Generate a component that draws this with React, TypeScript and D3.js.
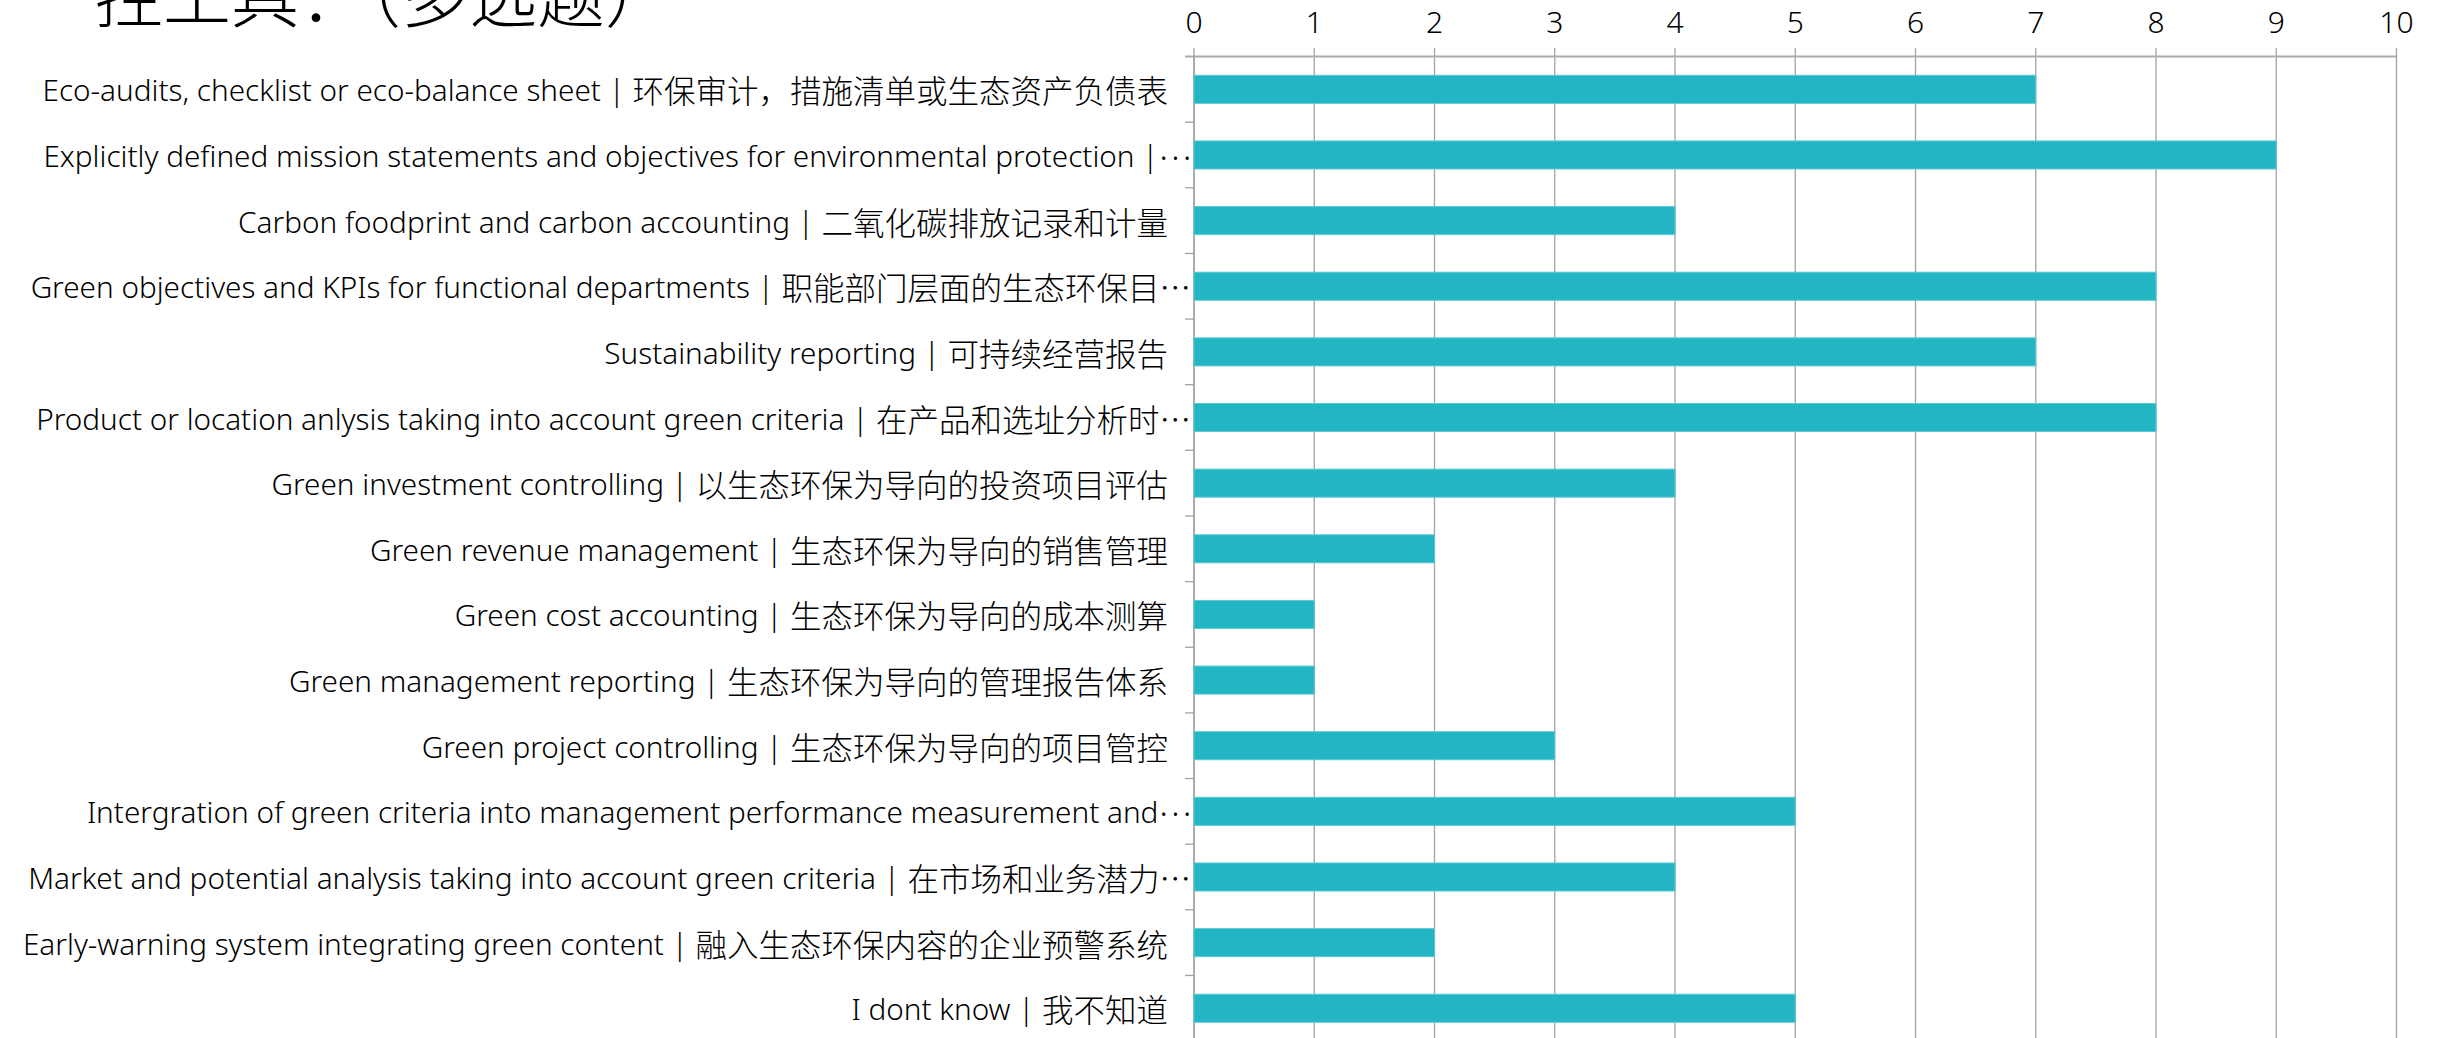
import React from "react";
import * as d3 from "d3";

const categories: string[] = [
  "Eco-audits, checklist or eco-balance sheet | 环保审计，措施清单或生态资产负债表",
  "Explicitly defined mission statements and objectives for environmental protection |…",
  "Carbon foodprint and carbon accounting | 二氧化碳排放记录和计量",
  "Green objectives and KPIs for functional departments | 职能部门层面的生态环保目…",
  "Sustainability reporting | 可持续经营报告",
  "Product or location anlysis taking into account green criteria | 在产品和选址分析时…",
  "Green investment controlling | 以生态环保为导向的投资项目评估",
  "Green revenue management | 生态环保为导向的销售管理",
  "Green cost accounting | 生态环保为导向的成本测算",
  "Green management reporting | 生态环保为导向的管理报告体系",
  "Green project controlling | 生态环保为导向的项目管控",
  "Intergration of green criteria into management performance measurement and…",
  "Market and potential analysis taking into account green criteria | 在市场和业务潜力…",
  "Early-warning system integrating green content | 融入生态环保内容的企业预警系统",
  "I dont know | 我不知道",
];

const values: number[] = [7, 9, 4, 8, 7, 8, 4, 2, 1, 1, 3, 5, 4, 2, 5];

const xTicks: number[] = [0, 1, 2, 3, 4, 5, 6, 7, 8, 9, 10];

const titleText = "控工具：（多选题）";

const W = 2440;
const H = 1038;
const FONT = "'Noto Sans', 'Noto Sans CJK SC', sans-serif";
const CJK = "'Noto Sans CJK SC', sans-serif";
const CJK_RE = /([\u2026\u3000-\u9fff\uff00-\uffef]+)/;

function renderLabel(s: string) {
  return s
    .split(CJK_RE)
    .filter((p) => p.length > 0)
    .map((p, k) => {
      if (p === "…") {
        return (
          <tspan key={k} fontFamily={CJK} fontSize={31.5} dy={-9}>
            {p}
          </tspan>
        );
      }
      return CJK_RE.test(p) ? (
        <tspan key={k} fontFamily={CJK} fontSize={31.5}>
          {p}
        </tspan>
      ) : (
        <tspan key={k}>{p}</tspan>
      );
    });
}

export default function App() {
  const x = d3.scaleLinear().domain([0, 10]).range([1194, 2396.5]);
  const y = d3
    .scaleBand<string>()
    .domain(categories)
    .range([56.5, 56.5 + 65.64 * categories.length])
    .paddingInner(0.573)
    .paddingOuter(0.2865);
  const step = y.step();
  const gridColor = "#A3A3A3";

  return (
    <svg
      width={W}
      height={H}
      style={{ position: "absolute", left: 0, top: 0, background: "#fff" }}
      fontFamily={FONT}
    >
      <rect x={0} y={0} width={W} height={H} fill="#fff" />
      {/* title (cut off at top) */}
      <text x={95} y={22} fontSize={68} fill="#000" fontFamily={CJK} fontWeight={300}>
        {titleText}
      </text>

      {/* gridlines */}
      {xTicks.map((t) => (
        <line
          key={"g" + t}
          x1={x(t)}
          x2={x(t)}
          y1={48}
          y2={H}
          stroke={gridColor}
          strokeWidth={1.3}
        />
      ))}
      {/* top axis line */}
      <line x1={1185} x2={x(10)} y1={56.5} y2={56.5} stroke="#ABABAB" strokeWidth={2} />
      {/* category axis line */}
      <line x1={x(0)} x2={x(0)} y1={56.5} y2={H} stroke={gridColor} strokeWidth={1.5} />
      {/* category tick marks */}
      {categories.map((c, i) => (
        <line
          key={"ct" + i}
          x1={1185}
          x2={x(0)}
          y1={56.5 + step * (i + 1)}
          y2={56.5 + step * (i + 1)}
          stroke={gridColor}
          strokeWidth={1.3}
        />
      ))}

      {/* tick labels */}
      {xTicks.map((t) => (
        <text
          key={"tl" + t}
          x={x(t)}
          y={33}
          fontSize={30}
          fontWeight={300}
          textAnchor="middle"
          fill="#000"
        >
          {String(t)}
        </text>
      ))}

      {/* bars */}
      {categories.map((c, i) => (
        <rect
          key={"b" + i}
          x={x(0)}
          y={y(c)!}
          width={x(values[i]) - x(0)}
          height={y.bandwidth()}
          fill="#22B5C4"
          stroke="#5CC7D2"
          strokeWidth={1}
        />
      ))}

      {/* category labels */}
      {categories.map((c, i) => {
        const truncated = c.endsWith("…");
        return (
          <text
            key={"l" + i}
            x={truncated ? 1191 : 1168}
            y={y(c)! + y.bandwidth() / 2}
            fontSize={29.7}
            fontWeight={300}
            textAnchor="end"
            dominantBaseline="central"
            fill="#000"
          >
            {renderLabel(c)}
          </text>
        );
      })}
    </svg>
  );
}
